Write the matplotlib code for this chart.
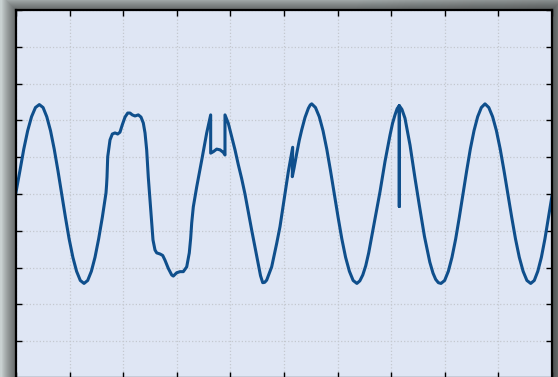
import numpy as np
import matplotlib
matplotlib.use("Agg")
import matplotlib.pyplot as plt
from matplotlib.patches import Rectangle

# signal trace (time, amplitude)
t = [0.000, 0.073, 0.145, 0.218, 0.290, 0.363, 0.435,
     0.505, 0.574, 0.644, 0.713, 0.783, 0.852, 0.922, 0.991, 1.061, 1.130, 1.200, 1.269,
     1.337, 1.406, 1.474, 1.542, 1.611, 1.679,
     1.690, 1.698, 1.711, 1.754, 1.797, 1.847, 1.897, 1.940, 1.983, 2.034,
     2.084, 2.127, 2.170, 2.220, 2.282, 2.332, 2.375, 2.407, 2.438, 2.468,
     2.500, 2.519, 2.556, 2.593, 2.625, 2.687, 2.737, 2.780, 2.841, 2.905,
     2.935, 2.998, 3.060, 3.121, 3.185, 3.233, 3.259, 3.278, 3.308, 3.371,
     3.465, 3.558, 3.632, 3.632, 3.681, 3.744, 3.806, 3.868, 3.899, 3.899,
     3.961, 4.024, 4.086, 4.147, 4.210, 4.272, 4.335, 4.397, 4.459, 4.520,
     4.562, 4.603, 4.640,
     4.677, 4.770, 4.864, 4.925, 4.987, 5.019, 5.080, 5.131, 5.162, 5.155,
     5.187, 5.237, 5.285, 5.330, 5.392, 5.455, 5.490, 5.517,
     5.587, 5.658, 5.728, 5.798, 5.868, 5.939, 6.009, 6.079, 6.149, 6.220, 6.290, 6.360,
     6.415, 6.470, 6.525, 6.580, 6.685, 6.791, 6.884, 6.978, 7.025, 7.071, 7.111,
     7.151, 7.151, 7.151,
     7.200, 7.257, 7.351, 7.444, 7.524, 7.620, 7.720, 7.780, 7.830, 7.880, 7.929,
     7.997, 8.066, 8.134, 8.203, 8.271, 8.340, 8.408, 8.476, 8.545, 8.613, 8.682, 8.750,
     8.821, 8.892, 8.963, 9.034, 9.105, 9.177, 9.248, 9.319, 9.390, 9.461, 9.532, 9.603,
     9.669, 9.735, 9.802, 9.868, 9.934, 10.000]
amp = [0.05, 0.63, 1.22, 1.72, 2.10, 2.35, 2.43,
       2.35, 2.10, 1.72, 1.22, 0.63, 0.00, -0.63, -1.22, -1.72, -2.10, -2.35, -2.43,
       -2.35, -2.10, -1.72, -1.22, -0.63, 0.03,
       0.25, 0.46, 1.01, 1.47, 1.63, 1.66, 1.63, 1.68, 1.88, 2.09,
       2.20, 2.20, 2.15, 2.12, 2.15, 2.09, 1.93, 1.66, 1.20, 0.46,
       -0.16, -0.52, -1.25, -1.52, -1.60, -1.63, -1.67, -1.80, -2.02, -2.20,
       -2.23, -2.14, -2.11, -2.11, -1.98, -1.60, -1.20, -0.79, -0.35, 0.19,
       0.92, 1.66, 2.15, 1.11, 1.15, 1.22, 1.20, 1.13, 1.06, 2.15,
       1.92, 1.56, 1.20, 0.80, 0.42, 0.00, -0.50, -0.98, -1.45, -1.90,
       -2.22, -2.41, -2.40,
       -2.34, -1.98, -1.34, -0.89, -0.30, 0.00, 0.60, 1.02, 1.27, 0.47,
       0.70, 1.10, 1.46, 1.74, 2.08, 2.33, 2.42, 2.45,
       2.35, 2.10, 1.72, 1.22, 0.63, 0.00, -0.63, -1.22, -1.72, -2.10, -2.35, -2.43,
       -2.36, -2.20, -1.95, -1.60, -0.78, 0.06, 0.88, 1.60, 1.92, 2.15, 2.32,
       2.40, -0.34, 2.40,
       2.30, 2.06, 1.33, 0.43, -0.30, -1.15, -1.85, -2.15, -2.32, -2.41, -2.43,
       -2.35, -2.10, -1.72, -1.22, -0.63, 0.00, 0.63, 1.22, 1.72, 2.10, 2.35, 2.45,
       2.35, 2.10, 1.72, 1.22, 0.63, 0.00, -0.63, -1.22, -1.72, -2.10, -2.35, -2.43,
       -2.35, -2.10, -1.72, -1.22, -0.63, -0.05]

W, H = 558, 377
fig = plt.figure(figsize=(W / 100, H / 100), dpi=100)

# grey backdrop with a soft gradient
bg = fig.add_axes([0, 0, 1, 1], zorder=-10)
gx = np.linspace(0, 1, 200)
gy = np.linspace(0, 1, 120)
GX, GY = np.meshgrid(gx, gy)
base = 0.82 - 0.28 * np.clip(GX - 0.64 + 0.3 * GY, 0, 1) ** 0.8
img = np.dstack([base * 0.96, base, base])
bg.imshow(img, aspect="auto", extent=[0, 1, 0, 1], origin="upper")
bg.axis("off")

ax_l, ax_r, ax_t, ax_b = 16, 552, 10, 378
ax = fig.add_axes([ax_l / W, 1 - ax_b / H, (ax_r - ax_l) / W, (ax_b - ax_t) / H])

# drop shadow round the plot frame
for i in range(14, 0, -1):
    fig.patches.append(Rectangle((ax_l - i, H - ax_b - i), (ax_r - ax_l) + 2 * i,
                                 (ax_b - ax_t) + 2 * i, transform=None,
                                 facecolor="black", edgecolor="none", alpha=0.045,
                                 zorder=-5))

ax.set_facecolor("#dfe6f4")
ax.plot(t, amp, color="#0f4f8c", lw=2.2, solid_joinstyle="round")

ax.set_xlim(0, 10)
ax.set_ylim(-5, 5)
ax.set_xticks(np.arange(0, 11, 1))
ax.set_yticks(np.arange(-5, 6, 1))
ax.grid(True, color="#c4c8cf", linestyle=":", linewidth=0.9)
ax.tick_params(direction="in", length=4, width=1, top=True, right=True,
               labelbottom=False, labelleft=False)
for s in ax.spines.values():
    s.set_linewidth(1.6)
    s.set_color("black")

fig.savefig("out.png", dpi=100)
